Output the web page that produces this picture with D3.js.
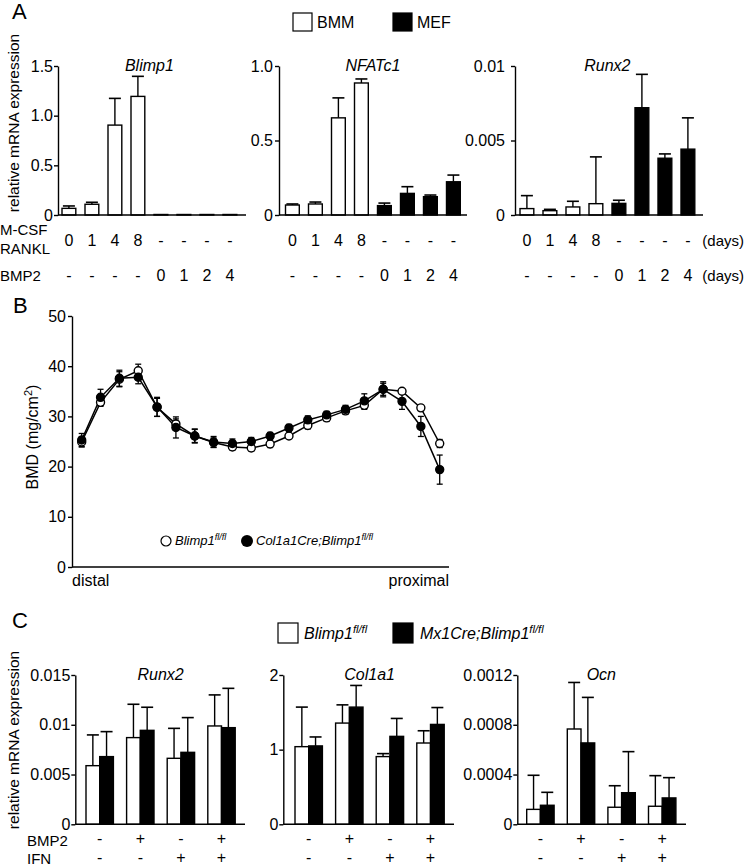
<!DOCTYPE html>
<html>
<head>
<meta charset="utf-8">
<script src="https://cdn.jsdelivr.net/npm/d3@7.9.0/dist/d3.min.js"></script>
<style>
  body { margin: 0; background: #fff; }
  svg { display: block; font-family: "Liberation Sans", Arial, sans-serif; }
</style>
</head>
<body>
<svg id="fig" width="745" height="866"></svg>
<script>
// ---- panel A data ----
const aCells = ['BMM', 'BMM', 'BMM', 'BMM', 'MEF', 'MEF', 'MEF', 'MEF'];
const aRanklDays = ['0', '1', '4', '8', '-', '-', '-', '-'];
const aBmp2Days = ['-', '-', '-', '-', '0', '1', '2', '4'];
const blimp1Mean = [0.067, 0.108, 0.905, 1.194, 0.005, 0.005, 0.005, 0.005];
const blimp1Sem = [0.024, 0.020, 0.269, 0.202, 0, 0, 0, 0];
const nfatc1Mean = [0.067, 0.074, 0.652, 0.886, 0.063, 0.145, 0.123, 0.223];
const nfatc1Sem = [0.007, 0.013, 0.134, 0.027, 0.017, 0.045, 0.011, 0.045];
const runx2AMean = [0.00043, 0.00029, 0.00054, 0.00076, 0.00078, 0.0072, 0.00381, 0.00442];
const runx2ASem = [0.00087, 0.00009, 0.00038, 0.00314, 0.00021, 0.00224, 0.00029, 0.0021];

// ---- panel B data ----
const bPositions = d3.range(1, 21);
const floxMean = [24.9, 32.8, 37.4, 39.1, 31.8, 28.5, 26.1, 24.8, 23.9, 23.7, 24.5, 26.1, 28.2, 29.7, 31.1, 32.2, 35.4, 35.0, 31.7, 24.6];
const floxSem = [1.0, 0.8, 1.5, 1.3, 1.8, 1.0, 1.3, 0.9, 0.6, 0.6, 0.7, 0.5, 0.7, 0.7, 0.7, 0.8, 1.2, 0.5, 0.5, 0.8];
const col1Mean = [25.3, 33.8, 37.6, 37.8, 31.9, 27.8, 26.1, 24.9, 24.6, 25.0, 26.1, 27.7, 29.3, 30.3, 31.4, 33.1, 35.4, 33.0, 28.0, 19.4];
const col1Sem = [1.3, 1.6, 1.6, 1.3, 1.9, 2.1, 1.4, 1.1, 0.9, 0.8, 0.7, 0.7, 0.8, 0.7, 0.8, 1.4, 1.5, 1.6, 2.0, 2.9];

// ---- panel C data ----
const cBmp2 = ['-', '+', '-', '+'];
const cIfn = ['-', '-', '+', '+'];
const runx2FlMean = [0.00589, 0.00871, 0.00663, 0.00988];
const runx2FlSem = [0.00309, 0.00335, 0.00301, 0.00312];
const runx2MxMean = [0.0068, 0.00944, 0.00723, 0.00971];
const runx2MxSem = [0.00251, 0.00232, 0.00349, 0.00395];
const col1a1FlMean = [1.04, 1.356, 0.907, 1.089];
const col1a1FlSem = [0.53, 0.244, 0.04, 0.164];
const col1a1MxMean = [1.05, 1.57, 1.178, 1.338];
const col1a1MxSem = [0.12, 0.29, 0.24, 0.226];
const ocnFlMean = [0.00012, 0.000766, 0.000137, 0.000145];
const ocnFlSem = [0.000274, 0.000374, 0.000173, 0.000246];
const ocnMxMean = [0.000153, 0.000654, 0.000254, 0.000212];
const ocnMxSem = [0.000104, 0.000366, 0.00033, 0.000163];

const svg = d3.select('#fig');
const FONT = 16;

function italicSup(g, x, y, main, sup, size) {
  const t = g.append('text').attr('x', x).attr('y', y)
    .attr('font-size', size).attr('font-style', 'italic');
  t.append('tspan').text(main);
  t.append('tspan').attr('dy', -size * 0.4).attr('font-size', size * 0.7).text(sup);
  return t;
}

function yAxis(g, y, x, ticks, fmt, pad) {
  g.append('g')
    .attr('transform', `translate(${x},0)`)
    .call(d3.axisLeft(y).tickValues(ticks).tickFormat(fmt).tickSize(4).tickSizeOuter(0).tickPadding(pad))
    .call(s => s.selectAll('path,line').attr('stroke', '#000').attr('stroke-width', 1.4))
    .call(s => s.selectAll('text').attr('font-size', FONT).attr('fill', '#000')
      .attr('font-family', '"Liberation Sans", Arial, sans-serif'));
}

function errUp(g, cx, yTop, yErr, cap) {
  g.append('line').attr('x1', cx).attr('x2', cx).attr('y1', yTop).attr('y2', yErr)
    .attr('stroke', '#000').attr('stroke-width', 1.4);
  g.append('line').attr('x1', cx - cap / 2).attr('x2', cx + cap / 2).attr('y1', yErr).attr('y2', yErr)
    .attr('stroke', '#000').attr('stroke-width', 1.6);
}

// ================= Panel A =================
svg.append('text').attr('x', 12).attr('y', 19).attr('font-size', 22).text('A');

// legend
[['BMM', 293, '#fff'], ['MEF', 393, '#000']].forEach(([lab, x, fill]) => {
  svg.append('rect').attr('x', x).attr('y', 13).attr('width', 19).attr('height', 18)
    .attr('fill', fill).attr('stroke', '#000').attr('stroke-width', 1.2);
  svg.append('text').attr('x', x + 24).attr('y', 28).attr('font-size', FONT).text(lab);
});

svg.append('text').attr('transform', 'translate(19,123) rotate(-90)')
  .attr('text-anchor', 'middle').attr('font-size', 15.5).text('relative mRNA expression');

const aCharts = [
  { title: 'Blimp1', mean: blimp1Mean, sem: blimp1Sem, ax: 58, end: 246, first: 62, max: 1.5,
    ticks: [0, 0.5, 1, 1.5], fmt: d => d === 0 ? '0' : d.toFixed(1), pad: 1 },
  { title: 'NFATc1', mean: nfatc1Mean, sem: nfatc1Sem, ax: 279, end: 467, first: 285.5, max: 1,
    ticks: [0, 0.5, 1], fmt: d => d === 0 ? '0' : d.toFixed(1), pad: 2 },
  { title: 'Runx2', mean: runx2AMean, sem: runx2ASem, ax: 515, end: 703, first: 520, max: 0.01,
    ticks: [0, 0.005, 0.01], fmt: d => d === 0 ? '0' : String(d), pad: 6 }
];

aCharts.forEach(c => {
  const g = svg.append('g');
  const y = d3.scaleLinear().domain([0, c.max]).range([215, 66]);
  const r0 = c.first - 0.2 * 23;
  const x = d3.scaleBand().domain(d3.range(8)).range([r0, r0 + 8 * 23])
    .paddingInner(0.4).paddingOuter(0.2);
  const cap = 12;

  c.mean.forEach((m, i) => {
    const cx = x(i) + x.bandwidth() / 2;
    if (c.sem[i] > 0) errUp(g, cx, y(m), y(m + c.sem[i]), cap);
    g.append('rect').attr('x', x(i)).attr('y', y(m)).attr('width', x.bandwidth())
      .attr('height', y(0) - y(m))
      .attr('fill', aCells[i] === 'BMM' ? '#fff' : '#000')
      .attr('stroke', '#000').attr('stroke-width', 1.4);
  });

  g.append('line').attr('x1', c.ax).attr('x2', c.end).attr('y1', y(0)).attr('y2', y(0))
    .attr('stroke', '#000').attr('stroke-width', 1.4);
  yAxis(g, y, c.ax, c.ticks, c.fmt, c.pad);

  g.append('text').attr('x', (x(0) + x(7) + x.bandwidth()) / 2).attr('y', 71)
    .attr('text-anchor', 'middle').attr('font-size', FONT).attr('font-style', 'italic').text(c.title);

  aRanklDays.forEach((d, i) => {
    g.append('text').attr('x', x(i) + x.bandwidth() / 2).attr('y', 246)
      .attr('text-anchor', 'middle').attr('font-size', FONT).text(d);
  });
  aBmp2Days.forEach((d, i) => {
    g.append('text').attr('x', x(i) + x.bandwidth() / 2).attr('y', 281)
      .attr('text-anchor', 'middle').attr('font-size', FONT).text(d);
  });
});

svg.append('text').attr('x', 0).attr('y', 235).attr('font-size', 15).text('M-CSF');
svg.append('text').attr('x', 0).attr('y', 254).attr('font-size', 15).text('RANKL');
svg.append('text').attr('x', 0).attr('y', 281).attr('font-size', 15).text('BMP2');
svg.append('text').attr('x', 744).attr('y', 246).attr('text-anchor', 'end').attr('font-size', 15).text('(days)');
svg.append('text').attr('x', 744).attr('y', 281).attr('text-anchor', 'end').attr('font-size', 15).text('(days)');

// ================= Panel B =================
svg.append('text').attr('x', 13).attr('y', 313).attr('font-size', 22).text('B');
{
  const g = svg.append('g');
  const x = d3.scalePoint().domain(bPositions).range([81.7, 439.7]);
  const y = d3.scaleLinear().domain([0, 50]).range([567, 316]);
  yAxis(g, y, 72, [0, 10, 20, 30, 40, 50], d3.format('d'), 2);
  g.append('line').attr('x1', 72).attr('x2', 449).attr('y1', 567).attr('y2', 567)
    .attr('stroke', '#000').attr('stroke-width', 1.4);

  g.append('text').attr('x', 72).attr('y', 586).attr('font-size', FONT).text('distal');
  g.append('text').attr('x', 449).attr('y', 586).attr('text-anchor', 'end').attr('font-size', FONT).text('proximal');

  const yl = g.append('text').attr('transform', 'translate(38,437) rotate(-90)')
    .attr('text-anchor', 'middle').attr('font-size', FONT);
  yl.append('tspan').text('BMD (mg/cm');
  yl.append('tspan').attr('dy', -6).attr('font-size', 11).text('2');
  yl.append('tspan').attr('dy', 6).text(')');

  const series = [
    { mean: floxMean, sem: floxSem, fill: '#fff' },
    { mean: col1Mean, sem: col1Sem, fill: '#000' }
  ];
  const line = d3.line().x((d, i) => x(bPositions[i])).y(d => y(d));
  series.forEach(s => {
    g.append('path').attr('d', line(s.mean)).attr('fill', 'none')
      .attr('stroke', '#000').attr('stroke-width', 1.5);
  });
  series.forEach(s => {
    s.mean.forEach((m, i) => {
      const cx = x(bPositions[i]);
      const lo = y(m - s.sem[i]), hi = y(m + s.sem[i]);
      g.append('line').attr('x1', cx).attr('x2', cx).attr('y1', lo).attr('y2', hi)
        .attr('stroke', '#000').attr('stroke-width', 1.3);
      [lo, hi].forEach(yy => g.append('line').attr('x1', cx - 3).attr('x2', cx + 3)
        .attr('y1', yy).attr('y2', yy).attr('stroke', '#000').attr('stroke-width', 1.3));
    });
  });
  series.forEach(s => {
    s.mean.forEach((m, i) => {
      g.append('circle').attr('cx', x(bPositions[i])).attr('cy', y(m)).attr('r', 4)
        .attr('fill', s.fill).attr('stroke', '#000').attr('stroke-width', 1.4);
    });
  });

  // legend
  g.append('circle').attr('cx', 166).attr('cy', 541).attr('r', 5)
    .attr('fill', '#fff').attr('stroke', '#000').attr('stroke-width', 1.2);
  italicSup(g, 175, 545, 'Blimp1', 'fl/fl', 13);
  g.append('circle').attr('cx', 247).attr('cy', 541).attr('r', 6).attr('fill', '#000');
  italicSup(g, 256, 545, 'Col1a1Cre;Blimp1', 'fl/fl', 13);
}

// ================= Panel C =================
svg.append('text').attr('x', 12).attr('y', 628).attr('font-size', 22).text('C');

svg.append('rect').attr('x', 278).attr('y', 623).attr('width', 20).attr('height', 20)
  .attr('fill', '#fff').attr('stroke', '#000').attr('stroke-width', 1.2);
italicSup(svg, 304, 639, 'Blimp1', 'fl/fl', FONT);
svg.append('rect').attr('x', 393).attr('y', 623).attr('width', 20).attr('height', 20)
  .attr('fill', '#000').attr('stroke', '#000').attr('stroke-width', 1.2);
italicSup(svg, 420, 639, 'Mx1Cre;Blimp1', 'fl/fl', FONT);

svg.append('text').attr('transform', 'translate(19,740) rotate(-90)')
  .attr('text-anchor', 'middle').attr('font-size', 15.5).text('relative mRNA expression');

const cCharts = [
  { title: 'Runx2', fl: runx2FlMean, flSem: runx2FlSem, mx: runx2MxMean, mxSem: runx2MxSem,
    ax: 75.3, end: 245, first: 86, max: 0.015, ticks: [0, 0.005, 0.01, 0.015],
    fmt: d => d === 0 ? '0' : String(+d.toFixed(3)) },
  { title: 'Col1a1', fl: col1a1FlMean, flSem: col1a1FlSem, mx: col1a1MxMean, mxSem: col1a1MxSem,
    ax: 283.3, end: 454, first: 295, max: 2, ticks: [0, 1, 2], fmt: d3.format('d') },
  { title: 'Ocn', fl: ocnFlMean, flSem: ocnFlSem, mx: ocnMxMean, mxSem: ocnMxSem,
    ax: 517.3, end: 686, first: 526.7, max: 0.0012, ticks: [0, 0.0004, 0.0008, 0.0012],
    fmt: d => d === 0 ? '0' : d.toFixed(4) }
];

cCharts.forEach(c => {
  const g = svg.append('g');
  const y = d3.scaleLinear().domain([0, c.max]).range([824.3, 675]);
  const step = 40.6;
  const r0 = c.first - 0.1625 * step;
  const x = d3.scaleBand().domain(d3.range(4)).range([r0, r0 + 4 * step])
    .paddingInner(0.325).paddingOuter(0.1625);
  const xs = d3.scaleBand().domain(['fl', 'mx']).range([0, x.bandwidth()]);
  const groups = [
    { key: 'fl', mean: c.fl, sem: c.flSem, fill: '#fff' },
    { key: 'mx', mean: c.mx, sem: c.mxSem, fill: '#000' }
  ];

  groups.forEach(s => {
    s.mean.forEach((m, i) => {
      const bx = x(i) + xs(s.key);
      const cx = bx + xs.bandwidth() / 2;
      errUp(g, cx, y(m), y(m + s.sem[i]), 12);
      g.append('rect').attr('x', bx).attr('y', y(m)).attr('width', xs.bandwidth())
        .attr('height', y(0) - y(m)).attr('fill', s.fill)
        .attr('stroke', '#000').attr('stroke-width', 1.4);
    });
  });

  g.append('line').attr('x1', c.ax).attr('x2', c.end).attr('y1', y(0)).attr('y2', y(0))
    .attr('stroke', '#000').attr('stroke-width', 1.4);
  yAxis(g, y, c.ax, c.ticks, c.fmt, 1);

  g.append('text').attr('x', (x(0) + x(3) + x.bandwidth()) / 2).attr('y', 680)
    .attr('text-anchor', 'middle').attr('font-size', FONT).attr('font-style', 'italic').text(c.title);

  cBmp2.forEach((d, i) => {
    g.append('text').attr('x', x(i) + x.bandwidth() / 2).attr('y', 844)
      .attr('text-anchor', 'middle').attr('font-size', FONT).text(d);
  });
  cIfn.forEach((d, i) => {
    g.append('text').attr('x', x(i) + x.bandwidth() / 2).attr('y', 863)
      .attr('text-anchor', 'middle').attr('font-size', FONT).text(d);
  });
});

svg.append('text').attr('x', 27).attr('y', 846).attr('font-size', 15).text('BMP2');
svg.append('text').attr('x', 27).attr('y', 864).attr('font-size', 15).text('IFN');
</script>
</body>
</html>
